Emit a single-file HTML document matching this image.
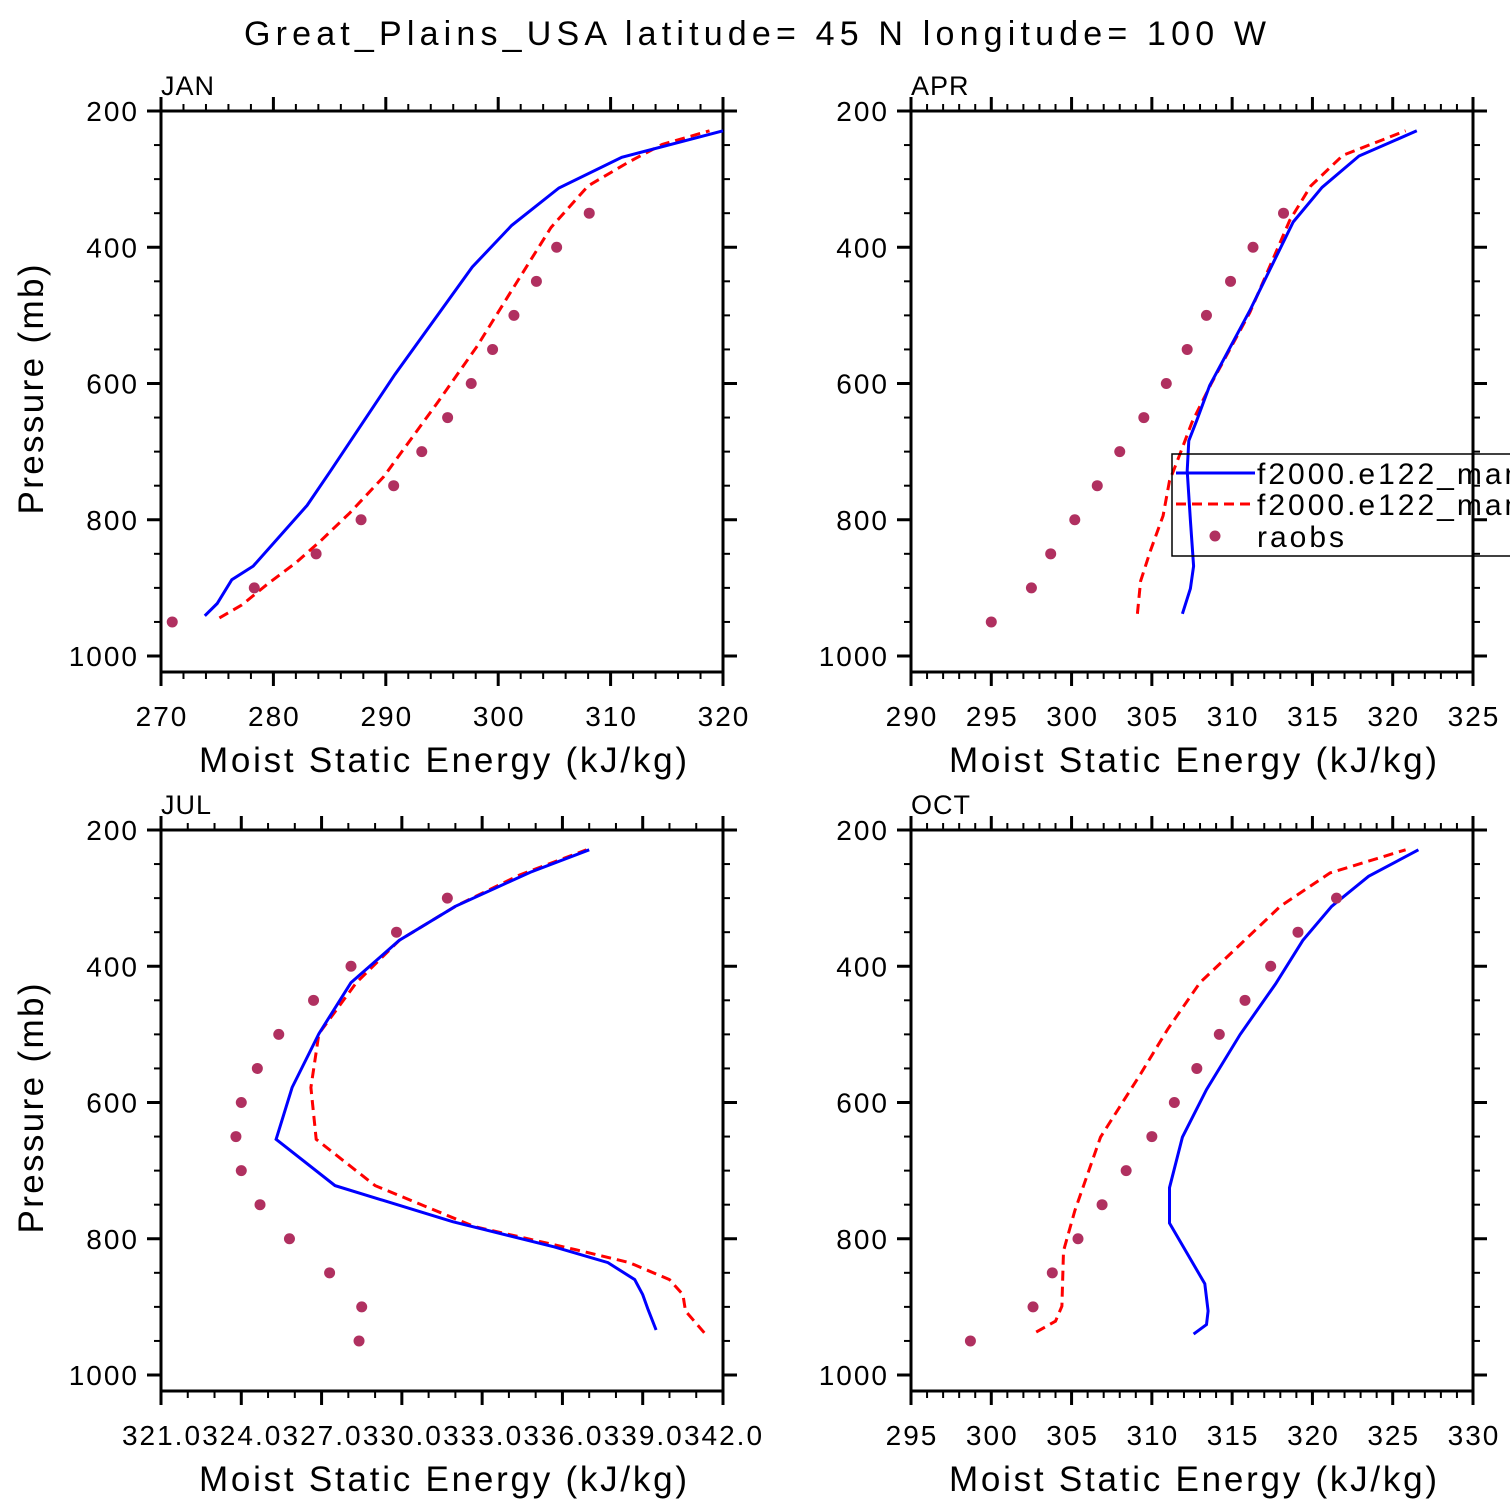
<!DOCTYPE html>
<html><head><meta charset="utf-8"><style>
html,body{margin:0;padding:0;background:#fff}
svg{display:block}
text{font-family:"Liberation Sans",sans-serif;fill:#000}
</style></head><body>
<svg id="c" width="1510" height="1510" viewBox="0 0 1510 1510">
<text x="244" y="45" font-size="34" textLength="1022" lengthAdjust="spacing">Great_Plains_USA  latitude= 45 N longitude= 100 W</text>
</svg>
<script>
// Pressure levels (mb)
const dotP=[950,900,850,800,750,700,650,600,550,500,450,400,350,300];
// JAN
const janBlueX=[273.9,275,276.3,278.2,281,283,285.1,290.8,297.7,301.2,305.4,311,320];
const janBlueP=[941,923,888,868,816,779,728,587,429,368,313,268,229];
const janRedX=[275.2,277.2,279.5,282,284.2,286.8,289.8,294.6,298.1,301.1,304.7,308,311.6,314.6,318.8];
const janRedP=[944,925,894,863,831,790,737,628,546,466,371,310,275,249,229];
const janDots=[271,278.3,283.8,287.8,290.7,293.2,295.5,297.6,299.5,301.4,303.4,305.2,308.1];
// APR
const aprBlueX=[306.9,307.4,307.6,307.4,307.2,307.3,307.8,308.6,311.1,313.8,315.6,317.9,321.5];
const aprBlueP=[938,901,868,801,728,684,654,603,493,363,312,266,229];
const aprRedX=[304.1,304.3,304.9,305.7,306.1,306.6,307.5,308.7,311.1,313.6,314.9,316.9,320.8];
const aprRedP=[938,890,846,794,743,713,657,600,496,360,310,265,229];
const aprDots=[295.0,297.5,298.7,300.2,301.6,303.0,304.5,305.9,307.2,308.4,309.9,311.3,313.2];
// JUL
const julBlueX=[339.5,339.2,339.0,338.7,337.7,335.7,331.9,327.5,325.3,325.9,326.9,328.1,329.9,332.0,334.8,337.0];
const julBlueP=[934,904,882,860,835,812,775,722,654,578,499,424,362,312,262,229];
const julRedX=[341.3,340.6,340.5,340.0,338.5,336.5,332.7,329.0,326.8,326.6,326.9,328.3,329.9,332.0,334.4,336.9];
const julRedP=[938,906,882,860,835,816,782,722,654,578,499,424,362,312,266,229];
const julDots=[328.4,328.5,327.3,325.8,324.7,324.0,323.8,324.0,324.6,325.4,326.7,328.1,329.8,331.7];
// OCT
const octBlueX=[312.6,313.4,313.5,313.3,311.1,311.1,311.9,313.4,315.5,317.7,319.4,321.2,323.5,326.6];
const octBlueP=[940,926,906,866,777,725,651,581,500,426,362,312,268,229];
const octRedX=[302.8,304.0,304.4,304.5,305.2,306.8,309.3,311.0,313.0,315.5,318.0,321.1,325.8];
const octRedP=[937,921,899,818,759,651,558,492,424,368,312,263,229];
const octDots=[298.7,302.6,303.8,305.4,306.9,308.4,310.0,311.4,312.8,314.2,315.8,317.4,319.1,321.5];
// tick labels
const pTicks=[200,400,600,800,1000];
const janTicks=["270","280","290","300","310","320"];
const aprTicks=["290","295","300","305","310","315","320","325"];
const julTicks=["321.0","324.0","327.0","330.0","333.0","336.0","339.0","342.0"];
const octTicks=["295","300","305","310","315","320","325","330"];

const NS="http://www.w3.org/2000/svg";
const svg=document.getElementById('c');
function mk(tag,attrs,parent){const e=document.createElementNS(NS,tag);for(const k in attrs)e.setAttribute(k,attrs[k]);(parent||svg).appendChild(e);return e;}

function panel(o){
  const L=o.x0,R=o.x0+562,T=o.y0,B=o.y0+561;
  const sx=v=>L+(v-o.xmin)/(o.xmax-o.xmin)*(R-L);
  const sy=p=>T+(p-200)*0.68125;
  const g=mk('g',{});
  
  
  const lab=mk('text',{x:L,y:T-16,'font-size':27,'letter-spacing':'1'},g);lab.textContent=o.label;
  
  
  for(let p=200;p<=1000;p+=50){
    const y=sy(p),maj=p%200===0,len=maj?14:7;
    mk('line',{x1:L-len,y1:y,x2:L,y2:y,stroke:'#000','stroke-width':maj?3:2},g);
    mk('line',{x1:R,y1:y,x2:R+len,y2:y,stroke:'#000','stroke-width':maj?3:2},g);
  }
  pTicks.forEach(p=>{const t=mk('text',{x:L-22,y:sy(p)+10,'text-anchor':'end','font-size':28,'letter-spacing':'2'},g);t.textContent=p;
    
    });
  const n=Math.round((o.xmax-o.xmin)/o.minor);
  for(let i=0;i<=n;i++){
    const v=o.xmin+i*o.minor,x=sx(v),maj=i%o.per===0,len=maj?14:7;
    mk('line',{x1:x,y1:B,x2:x,y2:B+len,stroke:'#000','stroke-width':maj?3:2},g);
    mk('line',{x1:x,y1:T-len,x2:x,y2:T,stroke:'#000','stroke-width':maj?3:2},g);
  }
  o.ticks.forEach((s,i)=>{const t=mk('text',{x:sx(o.xmin+i*o.minor*o.per)+1,y:B+54,'text-anchor':'middle','font-size':28,'letter-spacing':'2'},g);t.textContent=s;
    
    });
  const xt=mk('text',{x:(L+R)/2-44-244,y:B+100,'font-size':35,textLength:488,lengthAdjust:'spacing'},g);
  xt.setAttribute('x',L+38);
  xt.textContent='Moist Static Energy (kJ/kg)';
  
  
  if(o.ylab){const yt=mk('text',{x:-125,y:0,'font-size':35,textLength:250,lengthAdjust:'spacing',transform:`translate(43,${(T+B)/2-2}) rotate(-90)`},g);
    yt.textContent='Pressure (mb)';
    
    }
  mk('rect',{x:L,y:T,width:R-L,height:B-T,fill:'none',stroke:'#000','stroke-width':3},g);
  const pts=(X,P)=>X.map((v,i)=>sx(v).toFixed(1)+','+sy(P[i]).toFixed(1)).join(' ');
  const rl=mk('polyline',{points:pts(o.redX,o.redP),fill:'none',stroke:'#f00','stroke-width':3,'stroke-dasharray':'10,6'},g);
  
  
  const bl=mk('polyline',{points:pts(o.blueX,o.blueP),fill:'none',stroke:'#00f','stroke-width':3},g);
  
  
  o.dots.forEach((v,i)=>{const c=mk('circle',{cx:sx(v),cy:sy(dotP[i]),r:5.5,fill:'#b03060'},g);
    
    });
  return g;
}
panel({name:'jan',label:'JAN',x0:161,y0:111,xmin:270,xmax:320,minor:2,per:5,ticks:janTicks,blueX:janBlueX,blueP:janBlueP,redX:janRedX,redP:janRedP,dots:janDots,ylab:true});
panel({name:'apr',label:'APR',x0:911,y0:111,xmin:290,xmax:325,minor:1,per:5,ticks:aprTicks,blueX:aprBlueX,blueP:aprBlueP,redX:aprRedX,redP:aprRedP,dots:aprDots});
panel({name:'jul',label:'JUL',x0:161,y0:830,xmin:321,xmax:342,minor:1,per:3,ticks:julTicks,blueX:julBlueX,blueP:julBlueP,redX:julRedX,redP:julRedP,dots:julDots,ylab:true});
panel({name:'oct',label:'OCT',x0:911,y0:830,xmin:295,xmax:330,minor:1,per:5,ticks:octTicks,blueX:octBlueX,blueP:octBlueP,redX:octRedX,redP:octRedP,dots:octDots});
const lg=mk('g',{});


mk('rect',{x:1172,y:454,width:345,height:102,fill:'none',stroke:'#000','stroke-width':1.5},lg);
mk('line',{x1:1176,y1:473,x2:1255,y2:473,stroke:'#00f','stroke-width':3},lg);
mk('line',{x1:1176,y1:504,x2:1255,y2:504,stroke:'#f00','stroke-width':3,'stroke-dasharray':'10,6'},lg);
mk('circle',{cx:1215,cy:536,r:5.5,fill:'#b03060'},lg);
[['f2000.e122_mam_a',484],['f2000.e122_mam_b',515],['raobs',547]].forEach(([s,y])=>{
  const t=mk('text',{x:1257,y:y,'font-size':30,'letter-spacing':'3'},lg);t.textContent=s;
  
  });
</script>
</body></html>
